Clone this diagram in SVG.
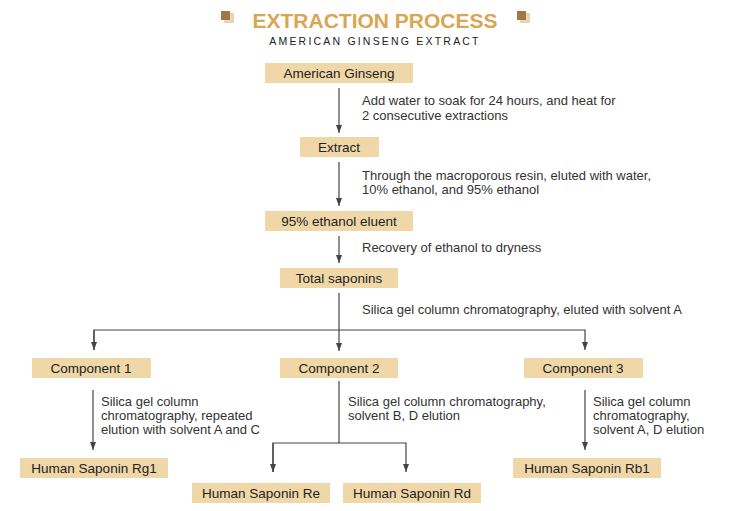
<svg xmlns="http://www.w3.org/2000/svg" width="750" height="511" viewBox="0 0 750 511">
<style>
.box{fill:#EFD7A8}
.t{font-family:"Liberation Sans",Arial,sans-serif;font-size:13px;fill:#333}
.bt{font-family:"Liberation Sans",Arial,sans-serif;font-size:13.5px;fill:#222;text-anchor:middle}
.ln{stroke:#444;stroke-width:1.2;fill:none}
</style>
<defs><marker id="a" markerWidth="8" markerHeight="10" refX="4" refY="9" orient="auto" markerUnits="userSpaceOnUse" viewBox="0 0 8 10"><path d="M1,0 L7,0 L4,10 Z" fill="#444" transform="rotate(-90 4 5)"/></marker>
<marker id="b" markerWidth="8" markerHeight="10" refX="8" refY="4" orient="auto" markerUnits="userSpaceOnUse"><path d="M0,1 L8,4 L0,7 Z" fill="#444"/></marker></defs>
<g id="title">
<rect x="224" y="13" width="10" height="10" fill="#E8D5B8"/><rect x="221" y="11" width="9" height="9" fill="#A27645"/>
<rect x="520" y="13" width="10" height="10" fill="#E8D5B8"/><rect x="517" y="11" width="9" height="9" fill="#A27645"/>
<text x="375" y="28" text-anchor="middle" font-family="Liberation Sans,Arial,sans-serif" font-weight="bold" font-size="21" fill="#D9A654">EXTRACTION PROCESS</text>
<text x="375" y="45" text-anchor="middle" font-family="Liberation Sans,Arial,sans-serif" font-size="10.5" letter-spacing="2.2" fill="#222">AMERICAN GINSENG EXTRACT</text>
</g>
<g id="connectors">
<line class="ln" x1="339" y1="88" x2="339" y2="133" marker-end="url(#b)"/>
<line class="ln" x1="339" y1="162" x2="339" y2="206" marker-end="url(#b)"/>
<line class="ln" x1="339" y1="236" x2="339" y2="263" marker-end="url(#b)"/>
<line class="ln" x1="339" y1="293" x2="339" y2="351" marker-end="url(#b)"/>
<polyline class="ln" points="94,350 94,330 585,330 585,350" marker-end="url(#b)"/>
<line class="ln" x1="94" y1="330" x2="94" y2="350" marker-end="url(#b)"/>
<line class="ln" x1="93" y1="390" x2="93" y2="450" marker-end="url(#b)"/>
<line class="ln" x1="339" y1="381" x2="339" y2="443"/>
<polyline class="ln" points="273,472 273,443 406,443 406,472" marker-end="url(#b)"/>
<line class="ln" x1="273" y1="443" x2="273" y2="472" marker-end="url(#b)"/>
<line class="ln" x1="585" y1="390" x2="585" y2="450" marker-end="url(#b)"/>
</g>
<g id="labels">
<text class="t" x="362" y="105">Add water to soak for 24 hours, and heat for</text>
<text class="t" x="362" y="120">2 consecutive extractions</text>
<text class="t" x="362" y="180">Through the macroporous resin, eluted with water,</text>
<text class="t" x="362" y="194">10% ethanol, and 95% ethanol</text>
<text class="t" x="362" y="252">Recovery of ethanol to dryness</text>
<text class="t" x="362" y="314">Silica gel column chromatography, eluted with solvent A</text>
<text class="t" x="101" y="406">Silica gel column</text>
<text class="t" x="101" y="420">chromatography, repeated</text>
<text class="t" x="101" y="434">elution with solvent A and C</text>
<text class="t" x="348" y="406">Silica gel column chromatography,</text>
<text class="t" x="348" y="420">solvent B, D elution</text>
<text class="t" x="593" y="406">Silica gel column</text>
<text class="t" x="593" y="420">chromatography,</text>
<text class="t" x="593" y="434">solvent A, D elution</text>
</g>
<g id="n1"><rect class="box" x="265" y="63" width="148" height="20"/><text class="bt" x="339" y="78">American Ginseng</text></g>
<g id="n2"><rect class="box" x="300" y="137" width="79" height="20"/><text class="bt" x="339" y="152">Extract</text></g>
<g id="n3"><rect class="box" x="265" y="211" width="148" height="20"/><text class="bt" x="339" y="226">95% ethanol eluent</text></g>
<g id="n4"><rect class="box" x="280" y="268" width="118" height="20"/><text class="bt" x="339" y="283">Total saponins</text></g>
<g id="c1"><rect class="box" x="32" y="358" width="119" height="20"/><text class="bt" x="91" y="373">Component 1</text></g>
<g id="c2"><rect class="box" x="280" y="358" width="118" height="20"/><text class="bt" x="339" y="373">Component 2</text></g>
<g id="c3"><rect class="box" x="524" y="358" width="119" height="20"/><text class="bt" x="583" y="373">Component 3</text></g>
<g id="rg1"><rect class="box" x="20" y="458" width="148" height="20"/><text class="bt" x="94" y="473">Human Saponin Rg1</text></g>
<g id="re"><rect class="box" x="192" y="483" width="138" height="20"/><text class="bt" x="261" y="498">Human Saponin Re</text></g>
<g id="rd"><rect class="box" x="343" y="483" width="138" height="20"/><text class="bt" x="412" y="498">Human Saponin Rd</text></g>
<g id="rb1"><rect class="box" x="513" y="458" width="148" height="20"/><text class="bt" x="587" y="473">Human Saponin Rb1</text></g>
</svg>
